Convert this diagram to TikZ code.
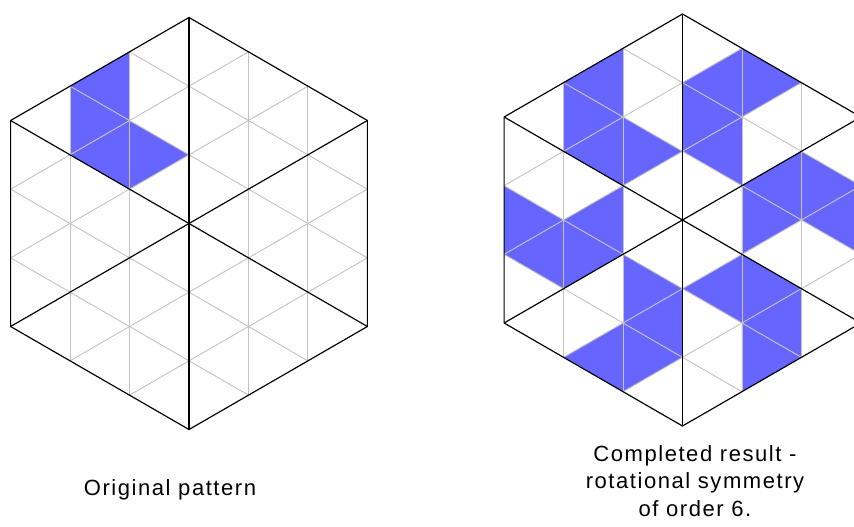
\documentclass[tikz,border=0pt]{standalone}
\usepackage{fontspec}
\setmainfont{Liberation Sans}
\usepackage{xcolor}
\usetikzlibrary{positioning}

\definecolor{tileblue}{RGB}{102,102,255}
\definecolor{gridgray}{RGB}{195,195,195}
\newcommand{\captionfont}{\fontsize{18.8}{23.5}\selectfont\addfontfeature{LetterSpace=7}}

\begin{document}
\begin{tikzpicture}[x=0.03cm, y=-0.03cm,
  tri/.style={x=2.06cm, y=2.06cm},
  tile/.style={fill=tileblue},
  thin grid/.style={draw=gridgray, line width=0.8pt},
  thick grid/.style={draw=black, line width=1pt, line join=round},
  caption/.style={font=\captionfont, align=center, inner sep=0pt}
]
\useasboundingbox (0,0) rectangle (854,527);
\coordinate (L) at (189,223.5);
\coordinate (R) at (682.5,220);

% original pattern
\fill[tile, shift={(L)}, tri] (-1.732,2) -- (-0.866,2.5) -- (-0.866,1.5)
  -- (0,1) -- (-0.866,0.5) -- (-1.732,1) -- cycle;
% the same four triangles turned six times
\foreach \r in {0,60,...,300}
  \fill[tile, shift={(R)}, tri, rotate=\r] (-1.732,2) -- (-0.866,2.5) -- (-0.866,1.5)
    -- (0,1) -- (-0.866,0.5) -- (-1.732,1) -- cycle;

% triangle grids
\foreach \c in {L,R} {
  \begin{scope}[shift={(\c)}, tri]
    \foreach \r in {0,60,120}
      \foreach \i in {-2,-1,1,2}
        \draw[thin grid, rotate=\r] (\i*0.866,{-3+abs(\i)/2}) -- (\i*0.866,{3-abs(\i)/2});
    \foreach \r in {0,60,120}
      \draw[thick grid, rotate=\r] (0,-3) -- (0,3);
    \draw[thick grid] (90:3) -- (150:3) -- (210:3) -- (270:3) -- (330:3) -- (30:3) -- cycle;
  \end{scope}
}

\node[caption, anchor=base] (orig) at (170,495) {Original pattern};
\node[caption] (result) at (695,481) {Completed result -\\rotational symmetry\\of order 6.};
\end{tikzpicture}
\end{document}
